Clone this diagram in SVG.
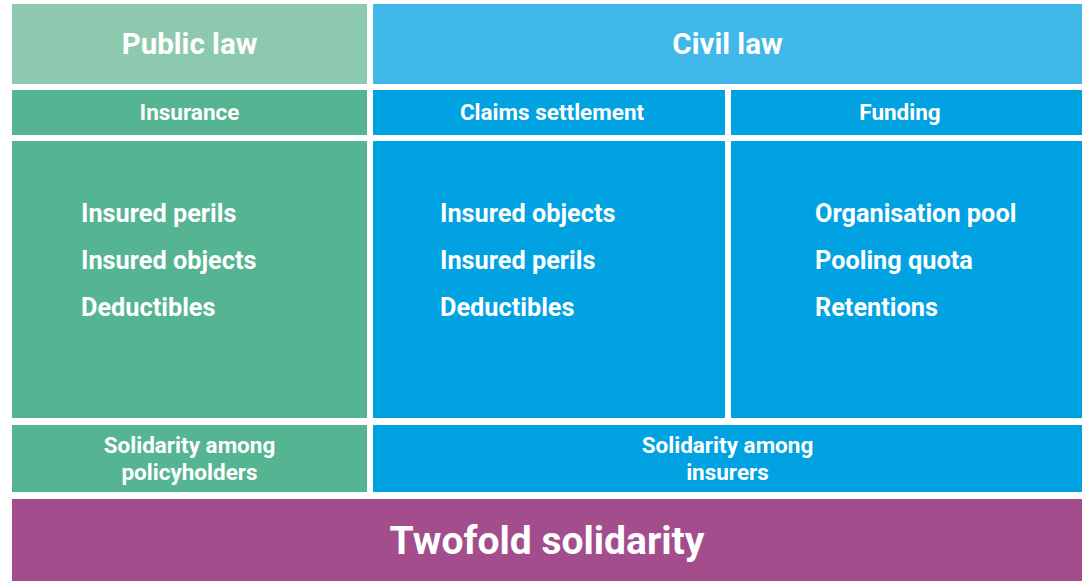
<svg xmlns="http://www.w3.org/2000/svg" width="1086" height="581" viewBox="0 0 1086 581">
  <style>
    text { font-family: Roboto, "Liberation Sans", sans-serif; font-weight: 700; fill: #ffffff; }
    .title { font-size: 29.5px; text-anchor: middle; }
    .head { font-size: 22.5px; text-anchor: middle; }
    .item { font-size: 25.3px; }
    .sol { font-size: 22.5px; text-anchor: middle; }
    .big { font-size: 39px; text-anchor: middle; }
    .pubLight { fill: #8dc9ae; }
    .pub { fill: #55b491; }
    .civLight { fill: #40b8ea; }
    .civ { fill: #00a2e2; }
    .both { fill: #a34d8c; }
  </style>
  <rect width="1086" height="581" fill="#ffffff"/>

  <g id="public-law">
    <rect class="pubLight" x="12" y="4" width="355" height="80"/>
    <text class="title" x="189.5" y="54">Public law</text>
  </g>
  <g id="civil-law">
    <rect class="civLight" x="373" y="4" width="709" height="80"/>
    <text class="title" x="727.5" y="54">Civil law</text>
  </g>

  <g id="insurance">
    <rect class="pub" x="12" y="90" width="355" height="45"/>
    <text class="head" x="189.5" y="120">Insurance</text>
  </g>
  <g id="claims-settlement">
    <rect class="civ" x="373" y="90" width="352" height="45"/>
    <text class="head" x="552" y="120">Claims settlement</text>
  </g>
  <g id="funding">
    <rect class="civ" x="731" y="90" width="351" height="45"/>
    <text class="head" x="900" y="120">Funding</text>
  </g>

  <g id="insurance-items">
    <rect class="pub" x="12" y="141" width="355" height="277"/>
    <text class="item" x="81" y="222">Insured perils</text>
    <text class="item" x="81" y="269">Insured objects</text>
    <text class="item" x="81" y="316">Deductibles</text>
  </g>
  <g id="claims-items">
    <rect class="civ" x="373" y="141" width="352" height="277"/>
    <text class="item" x="440" y="222">Insured objects</text>
    <text class="item" x="440" y="269">Insured perils</text>
    <text class="item" x="440" y="316">Deductibles</text>
  </g>
  <g id="funding-items">
    <rect class="civ" x="731" y="141" width="351" height="277"/>
    <text class="item" x="815" y="222">Organisation pool</text>
    <text class="item" x="815" y="269">Pooling quota</text>
    <text class="item" x="815" y="316">Retentions</text>
  </g>

  <g id="policyholder-solidarity">
    <rect class="pub" x="12" y="425" width="355" height="67"/>
    <text class="sol" x="189.5" y="453">Solidarity among</text>
    <text class="sol" x="189.5" y="480">policyholders</text>
  </g>
  <g id="insurer-solidarity">
    <rect class="civ" x="373" y="425" width="709" height="67"/>
    <text class="sol" x="727.5" y="453">Solidarity among</text>
    <text class="sol" x="727.5" y="480">insurers</text>
  </g>

  <g id="twofold-solidarity">
    <rect class="both" x="12" y="499" width="1070" height="82"/>
    <text class="big" x="547" y="554">Twofold solidarity</text>
  </g>

  <g id="connectors"/>
</svg>
